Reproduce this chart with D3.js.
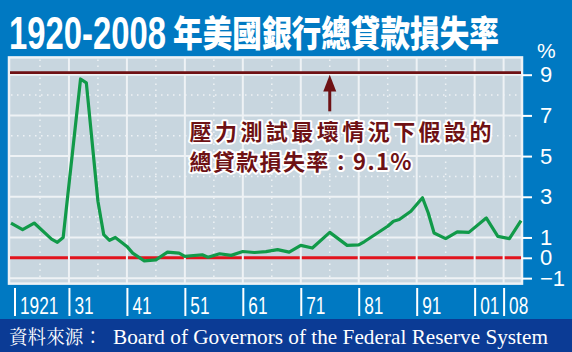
<!DOCTYPE html>
<html>
<head>
<meta charset="utf-8">
<script src="https://cdn.jsdelivr.net/npm/d3@7"></script>
<style>
  body { margin: 0; background: #0079c2; }
  svg { display: block; }
</style>
</head>
<body>
<div id="chart"></div>
<script>
// Total loan loss rate of US banks, %
const years = [1920, 1922, 1924, 1927, 1928, 1929, 1932, 1933, 1935, 1936, 1937, 1938, 1940, 1941,
    1943, 1945, 1947, 1949, 1950, 1953, 1954, 1956, 1958, 1960, 1962, 1964, 1966, 1968, 1970, 1972,
    1975, 1978, 1980, 1981, 1985, 1986, 1987, 1989, 1991, 1992, 1993, 1995, 1997, 1999, 2002, 2004,
    2006, 2008];
const lossRates = [1.71, 1.38, 1.71, 0.92, 0.76, 1.0, 8.79, 8.6, 2.78, 1.14, 0.86, 1.0, 0.56, 0.23,
    -0.15, -0.1, 0.28, 0.23, 0.07, 0.15, 0.03, 0.2, 0.12, 0.31, 0.26, 0.3, 0.4, 0.28, 0.61, 0.48,
    1.25, 0.61, 0.64, 0.8, 1.55, 1.8, 1.88, 2.29, 2.95, 2.2, 1.22, 0.94, 1.27, 1.25, 1.96, 1.05,
    0.94, 1.83];
const stressRate = 9.1;

const yTicks = [-1, 0, 1, 3, 5, 7, 9];
const yGridSolid = [-1, 1, 3, 5, 7, 9];
const yGridDotted = [2, 4, 6, 8];
const xGridSolid = [1930, 1940, 1950, 1960, 1970, 1980, 1990, 2000, 2005];
const xGridDotted = [1925, 1935, 1945, 1955, 1965, 1975, 1985, 1995];
const xTickYears = [1920.6, 1930, 1940, 1950, 1960, 1970, 1980, 1990, 2000, 2005];
const xTickLabels = ['1921', '31', '41', '51', '61', '71', '81', '91', '01', '08'];

const titleYears = '1920-2008';
const titleText = '年美國銀行總貸款損失率';
const noteLines = ['壓力測試最壞情況下假設的', '總貸款損失率：9.1%'];
const sourceLabel = '資料來源：';
const sourceText = 'Board of Governors of the Federal Reserve System';

const colors = {
    bg: '#0079c2',
    footer: '#0b3b95',
    panel: '#c8d6df',
    grid: '#eef2f5',
    line: '#119a49',
    zero: '#e2131d',
    stress: '#6e1114'
};

const width = 572, height = 352;

const x = d3.scaleLinear().domain([1920, 2008]).range([11, 521]);
const y = d3.scaleLinear().domain([0, 9]).range([257.8, 74.7]);

const svg = d3.select('#chart')
    .append('svg')
    .attr('width', width)
    .attr('height', height);

// Background and footer band
svg.append('rect').attr('width', width).attr('height', height).attr('fill', colors.bg);
svg.append('rect').attr('y', 319).attr('width', width).attr('height', height - 319).attr('fill', colors.footer);

// Plot panel with white frame
const panelL = x(1920) - 2, panelR = x(2008) + 1;
const panelT = y(9.85), panelB = y(-1.27);
svg.append('rect')
    .attr('x', panelL).attr('y', panelT)
    .attr('width', panelR - panelL).attr('height', panelB - panelT)
    .attr('fill', colors.panel)
    .attr('stroke', colors.grid)
    .attr('stroke-width', 2.5);

// Dotted grid
svg.append('g').selectAll('line')
    .data(yGridDotted)
    .join('line')
    .attr('x1', panelL + 2).attr('x2', panelR - 2)
    .attr('y1', d => y(d)).attr('y2', d => y(d))
    .attr('stroke', colors.grid).attr('stroke-width', 1.5)
    .attr('stroke-dasharray', '1.5,4.5');

svg.append('g').selectAll('line')
    .data(xGridDotted)
    .join('line')
    .attr('x1', d => x(d)).attr('x2', d => x(d))
    .attr('y1', panelT + 2).attr('y2', panelB - 2)
    .attr('stroke', colors.grid).attr('stroke-width', 1.5)
    .attr('stroke-dasharray', '1.5,4.5');

// Zero line (under the solid grid)
svg.append('line')
    .attr('x1', panelL + 1).attr('x2', panelR - 1)
    .attr('y1', y(0)).attr('y2', y(0))
    .attr('stroke', colors.zero).attr('stroke-width', 3);

// Solid grid
svg.append('g').selectAll('line')
    .data(yGridSolid)
    .join('line')
    .attr('x1', panelL).attr('x2', panelR)
    .attr('y1', d => y(d)).attr('y2', d => y(d))
    .attr('stroke', colors.grid).attr('stroke-width', 2);

svg.append('g').selectAll('line')
    .data(xGridSolid)
    .join('line')
    .attr('x1', d => x(d)).attr('x2', d => x(d))
    .attr('y1', panelT).attr('y2', panelB)
    .attr('stroke', colors.grid).attr('stroke-width', 2);

// Stress test line at 9.1%
svg.append('line')
    .attr('x1', panelL + 1).attr('x2', panelR - 1)
    .attr('y1', y(stressRate)).attr('y2', y(stressRate))
    .attr('stroke', colors.stress).attr('stroke-width', 2.8);

// Loss rate series
svg.append('path')
    .datum(years.map((yr, i) => [yr, lossRates[i]]))
    .attr('fill', 'none')
    .attr('stroke', colors.line)
    .attr('stroke-width', 3.2)
    .attr('stroke-linejoin', 'round')
    .attr('d', d3.line().x(d => x(d[0])).y(d => y(d[1])));

// Arrow pointing at the stress line
const ax = x(1975);
svg.append('line')
    .attr('x1', ax).attr('x2', ax)
    .attr('y1', y(7.2)).attr('y2', y(8.4))
    .attr('stroke', colors.stress).attr('stroke-width', 3);
svg.append('path')
    .attr('d', `M${ax},${y(9.0)} L${ax - 6.5},${y(8.18)} L${ax + 6.5},${y(8.18)} Z`)
    .attr('fill', colors.stress);

// Annotation
svg.append('g').selectAll('text')
    .data(noteLines)
    .join('text')
    .attr('x', 189.5)
    .attr('y', (d, i) => 140 + i * 30)
    .attr('textLength', (d, i) => i === 0 ? 302 : 222)
    .attr('lengthAdjust', 'spacing')
    .style('font-family', '"Noto Sans CJK TC", sans-serif')
    .style('font-weight', 700)
    .style('font-size', '22px')
    .style('fill', colors.stress)
    .style('stroke', '#fff')
    .style('stroke-width', 4)
    .style('stroke-linejoin', 'round')
    .style('paint-order', 'stroke')
    .text(d => d);

// Right axis
const yAxis = svg.append('g')
    .attr('transform', `translate(${panelR},0)`)
    .call(d3.axisRight(y).tickValues(yTicks).tickSize(10).tickPadding(8).tickFormat(d3.format('d')));
yAxis.select('.domain').remove();
yAxis.selectAll('line').attr('stroke', '#fff').attr('stroke-width', 2);
yAxis.selectAll('text')
    .attr('fill', '#fff')
    .style('font-family', '"Liberation Sans", Arial, sans-serif')
    .style('font-size', '22px');

svg.append('text')
    .attr('x', 537).attr('y', 58)
    .style('font-family', '"Liberation Sans", Arial, sans-serif')
    .style('font-size', '21px')
    .style('fill', '#fff')
    .text('%');

// Bottom axis: labels sit to the right of each tick
const xAxis = svg.append('g')
    .attr('transform', 'translate(0,288)')
    .call(d3.axisBottom(x).tickValues(xTickYears).tickSize(28).tickFormat((d, i) => xTickLabels[i]));
xAxis.select('.domain').remove();
xAxis.selectAll('line').attr('stroke', '#fff').attr('stroke-width', 2);
xAxis.selectAll('text')
    .attr('x', 5).attr('y', 26).attr('dy', null)
    .attr('text-anchor', 'start')
    .attr('fill', '#fff')
    .attr('textLength', (d, i) => xTickLabels[i].length * 9.6)
    .attr('lengthAdjust', 'spacingAndGlyphs')
    .style('font-family', '"Liberation Sans", Arial, sans-serif')
    .style('font-size', '24px');

// Title
svg.append('text')
    .attr('x', 9).attr('y', 49)
    .attr('textLength', 157).attr('lengthAdjust', 'spacingAndGlyphs')
    .style('font-family', '"Liberation Sans", Arial, sans-serif')
    .style('font-weight', 700)
    .style('font-size', '47px')
    .style('fill', '#fff')
    .text(titleYears);

svg.append('text')
    .attr('x', 173).attr('y', 47)
    .attr('textLength', 326).attr('lengthAdjust', 'spacingAndGlyphs')
    .style('font-family', '"Noto Sans CJK TC", sans-serif')
    .style('font-weight', 900)
    .style('font-size', '36px')
    .style('fill', '#fff')
    .text(titleText);

// Source
svg.append('text')
    .attr('x', 9).attr('y', 344)
    .attr('textLength', 93).attr('lengthAdjust', 'spacingAndGlyphs')
    .style('font-family', '"Noto Serif CJK TC", "Noto Sans CJK TC", serif')
    .style('font-size', '19px')
    .style('fill', '#fff')
    .text(sourceLabel);

svg.append('text')
    .attr('x', 113).attr('y', 344)
    .attr('textLength', 435).attr('lengthAdjust', 'spacingAndGlyphs')
    .style('font-family', '"Liberation Serif", "Times New Roman", serif')
    .style('font-size', '21px')
    .style('fill', '#fff')
    .text(sourceText);
</script>
</body>
</html>
